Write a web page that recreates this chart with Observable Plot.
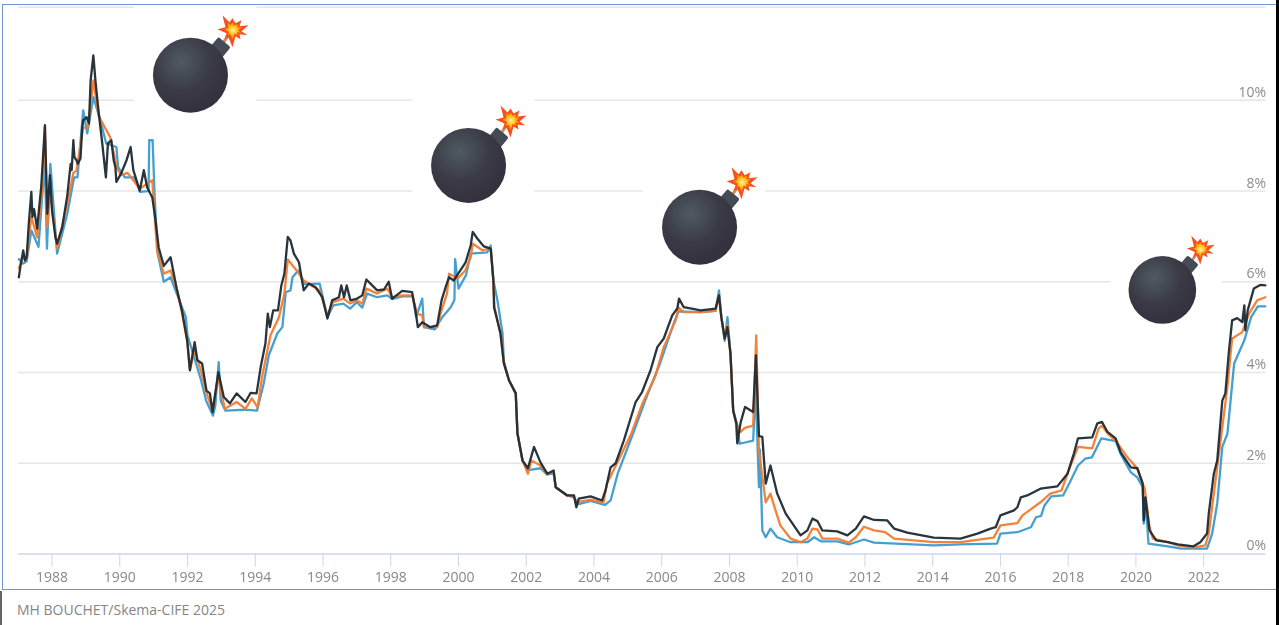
<!DOCTYPE html>
<html>
<head>
<meta charset="utf-8">
<script src="https://cdn.jsdelivr.net/npm/d3@7"></script>
<script src="https://cdn.jsdelivr.net/npm/@observablehq/plot@0.6"></script>
<style>
html,body{margin:0;padding:0;background:#fff;overflow:hidden}
#page{position:relative;width:1279px;height:625px;font-family:"Open Sans",sans-serif}
#chart svg{display:block;filter:blur(0.4px)}
#caption{padding:9px 0 0 17px;font-size:14px;line-height:20px;color:#858585}
#frame{position:absolute;left:2px;top:4px;width:1274px;height:586px;box-sizing:border-box;border:1.5px solid #6b96cf;border-right:none;pointer-events:none}
#edge{position:absolute;left:1276px;top:0;width:3px;height:625px;background:#000}
#gutter{position:absolute;left:0;top:591px;width:2px;height:34px;background:#666}
</style>
</head>
<body>
<div id="page">
<div id="chart"></div>
<div id="caption">MH BOUCHET/Skema-CIFE 2025</div>
<div id="frame"></div><div id="edge"></div><div id="gutter"></div>
</div>
<script>
const blackSeries = [[1987.02,6.1],[1987.08,6.4],[1987.15,6.69],[1987.2,6.47],[1987.25,6.54],[1987.32,7.35],[1987.39,7.98],[1987.42,7.43],[1987.47,7.6],[1987.56,7.17],[1987.68,8.09],[1987.79,9.45],[1987.86,7.5],[1987.94,8.35],[1988.0,7.57],[1988.1,6.98],[1988.15,6.84],[1988.3,7.2],[1988.45,7.9],[1988.55,8.6],[1988.58,8.46],[1988.63,9.12],[1988.66,8.75],[1988.72,8.68],[1988.76,8.6],[1988.84,8.72],[1988.89,9.38],[1988.92,9.56],[1989.02,9.63],[1989.09,9.49],[1989.14,10.44],[1989.22,10.99],[1989.28,10.44],[1989.38,9.71],[1989.48,9.07],[1989.59,8.3],[1989.65,9.05],[1989.75,9.12],[1989.82,8.68],[1989.87,8.53],[1989.9,8.2],[1990.04,8.39],[1990.2,8.68],[1990.32,8.97],[1990.4,8.46],[1990.59,8.01],[1990.71,8.46],[1990.81,8.08],[1990.96,7.86],[1991.03,7.5],[1991.15,6.75],[1991.3,6.35],[1991.5,6.54],[1991.68,5.85],[1991.84,5.35],[1991.99,4.71],[1992.07,4.05],[1992.21,4.67],[1992.29,4.27],[1992.43,4.2],[1992.56,3.6],[1992.66,3.54],[1992.74,3.13],[1992.91,4.01],[1993.07,3.46],[1993.25,3.32],[1993.45,3.54],[1993.71,3.35],[1993.86,3.55],[1994.04,3.54],[1994.16,4.12],[1994.3,4.64],[1994.37,5.3],[1994.43,5.0],[1994.53,5.37],[1994.67,5.37],[1994.77,5.92],[1994.86,6.18],[1994.96,6.99],[1995.04,6.91],[1995.14,6.62],[1995.29,6.43],[1995.43,5.81],[1995.58,5.96],[1995.78,5.88],[1995.98,5.66],[1996.13,5.19],[1996.27,5.59],[1996.47,5.66],[1996.54,5.92],[1996.62,5.66],[1996.7,5.92],[1996.81,5.59],[1997.01,5.63],[1997.16,5.7],[1997.28,6.05],[1997.4,5.96],[1997.6,5.81],[1997.8,5.83],[1997.94,6.0],[1998.04,5.63],[1998.34,5.8],[1998.63,5.77],[1998.73,5.37],[1998.8,5.0],[1998.93,5.11],[1999.17,5.0],[1999.37,5.04],[1999.5,5.59],[1999.62,5.88],[1999.72,6.1],[1999.86,6.03],[2000.21,6.43],[2000.36,6.8],[2000.42,7.1],[2000.55,6.96],[2000.75,6.78],[2000.95,6.73],[2001.03,6.03],[2001.05,5.44],[2001.24,4.86],[2001.34,4.2],[2001.49,3.83],[2001.69,3.54],[2001.74,2.66],[2001.89,2.06],[2002.05,1.89],[2002.23,2.36],[2002.42,2.02],[2002.62,1.77],[2002.81,1.84],[2002.87,1.47],[2003.21,1.29],[2003.41,1.29],[2003.48,1.03],[2003.55,1.22],[2003.9,1.27],[2004.24,1.18],[2004.34,1.4],[2004.49,1.91],[2004.64,2.0],[2004.88,2.5],[2005.23,3.35],[2005.42,3.57],[2005.67,4.05],[2005.87,4.56],[2006.06,4.75],[2006.31,5.26],[2006.46,5.41],[2006.51,5.63],[2006.65,5.44],[2007.15,5.37],[2007.59,5.41],[2007.69,5.7],[2007.76,5.22],[2007.86,4.75],[2007.94,5.0],[2008.03,4.41],[2008.11,3.16],[2008.2,2.88],[2008.23,2.44],[2008.33,2.9],[2008.46,3.24],[2008.7,3.13],[2008.78,4.38],[2008.87,2.6],[2008.97,2.58],[2009.07,1.55],[2009.21,1.95],[2009.41,1.33],[2009.66,0.89],[2010.1,0.41],[2010.3,0.52],[2010.45,0.78],[2010.6,0.72],[2010.74,0.52],[2011.18,0.5],[2011.48,0.41],[2011.73,0.56],[2011.97,0.83],[2012.27,0.75],[2012.66,0.74],[2012.86,0.56],[2013.25,0.47],[2014.03,0.36],[2014.82,0.34],[2015.32,0.45],[2015.71,0.56],[2015.86,0.59],[2016.0,0.85],[2016.4,0.96],[2016.5,1.03],[2016.6,1.25],[2016.79,1.29],[2017.18,1.44],[2017.68,1.49],[2017.98,1.77],[2018.17,2.22],[2018.29,2.55],[2018.71,2.57],[2018.86,2.88],[2019.0,2.91],[2019.16,2.69],[2019.4,2.55],[2019.55,2.24],[2019.85,1.91],[2020.04,1.89],[2020.2,1.55],[2020.23,0.74],[2020.28,1.25],[2020.4,0.52],[2020.6,0.3],[2020.94,0.26],[2021.24,0.21],[2021.7,0.17],[2021.9,0.26],[2022.1,0.45],[2022.15,0.89],[2022.3,1.77],[2022.4,2.06],[2022.5,2.94],[2022.55,3.38],[2022.64,3.54],[2022.74,4.42],[2022.84,5.15],[2022.99,5.2],[2023.14,5.11],[2023.2,5.48],[2023.23,4.93],[2023.3,5.37],[2023.48,5.85],[2023.67,5.93],[2023.82,5.92]];
const orangeSeries = [[1987.02,6.3],[1987.15,6.55],[1987.25,6.5],[1987.32,7.0],[1987.39,7.43],[1987.56,6.98],[1987.71,8.0],[1987.79,9.41],[1987.86,7.2],[1987.94,8.0],[1988.15,6.73],[1988.45,7.72],[1988.63,8.4],[1988.72,8.45],[1988.92,9.4],[1989.06,9.4],[1989.22,10.44],[1989.38,9.65],[1989.72,9.18],[1989.92,8.5],[1990.04,8.35],[1990.23,8.4],[1990.59,8.05],[1990.96,8.24],[1991.1,6.7],[1991.3,6.18],[1991.5,6.25],[1991.68,5.85],[1991.84,5.3],[1992.0,4.65],[1992.07,4.05],[1992.21,4.5],[1992.43,3.94],[1992.56,3.55],[1992.74,3.16],[1992.9,3.9],[1993.1,3.2],[1993.45,3.35],[1993.71,3.2],[1993.9,3.43],[1994.07,3.23],[1994.2,3.9],[1994.45,4.82],[1994.7,5.22],[1994.86,5.74],[1994.96,6.49],[1995.22,6.25],[1995.43,6.03],[1995.9,5.81],[1996.13,5.26],[1996.3,5.55],[1996.6,5.63],[1996.8,5.52],[1997.0,5.59],[1997.16,5.52],[1997.28,5.85],[1997.6,5.74],[1997.9,5.85],[1998.04,5.66],[1998.34,5.7],[1998.63,5.7],[1998.78,5.3],[1998.93,5.26],[1998.98,5.0],[1999.37,5.0],[1999.47,5.3],[1999.66,5.74],[1999.72,6.18],[1999.97,6.07],[2000.2,6.25],[2000.36,6.54],[2000.42,6.84],[2000.72,6.69],[2000.95,6.75],[2001.03,6.03],[2001.06,5.44],[2001.24,4.86],[2001.34,4.2],[2001.49,3.83],[2001.69,3.54],[2001.74,2.66],[2001.89,2.06],[2002.05,1.77],[2002.15,2.06],[2002.42,1.95],[2002.62,1.77],[2002.81,1.8],[2002.87,1.47],[2003.21,1.29],[2003.41,1.27],[2003.48,1.08],[2003.55,1.15],[2003.9,1.2],[2004.28,1.13],[2004.38,1.55],[2004.72,2.06],[2005.1,2.65],[2005.42,3.3],[2005.8,3.9],[2006.06,4.56],[2006.41,5.15],[2006.5,5.43],[2006.65,5.33],[2007.15,5.33],[2007.59,5.36],[2007.69,5.7],[2007.76,5.22],[2007.86,4.75],[2007.94,5.05],[2008.03,4.41],[2008.11,3.16],[2008.2,2.88],[2008.33,2.69],[2008.45,2.78],[2008.7,2.83],[2008.79,4.82],[2008.87,2.28],[2009.07,1.14],[2009.21,1.33],[2009.36,0.96],[2009.5,0.63],[2009.8,0.34],[2010.1,0.26],[2010.3,0.34],[2010.45,0.56],[2010.6,0.54],[2010.74,0.34],[2011.18,0.34],[2011.52,0.25],[2011.73,0.37],[2011.97,0.6],[2012.27,0.52],[2012.6,0.48],[2012.86,0.34],[2014.03,0.26],[2014.82,0.26],[2015.8,0.36],[2016.0,0.63],[2016.5,0.68],[2016.65,0.85],[2017.18,1.14],[2017.47,1.33],[2017.8,1.4],[2018.05,1.91],[2018.29,2.36],[2018.71,2.33],[2018.9,2.77],[2019.0,2.83],[2019.16,2.66],[2019.4,2.5],[2019.75,2.13],[2020.04,1.89],[2020.2,1.55],[2020.26,1.44],[2020.4,0.6],[2020.5,0.34],[2020.94,0.26],[2021.24,0.19],[2021.7,0.14],[2022.05,0.19],[2022.15,0.45],[2022.3,1.33],[2022.5,2.5],[2022.7,3.68],[2022.84,4.75],[2023.14,4.89],[2023.34,5.3],[2023.58,5.59],[2023.82,5.66]];
const blueSeries = [[1987.02,6.5],[1987.15,6.4],[1987.25,6.45],[1987.39,7.13],[1987.6,6.77],[1987.71,7.9],[1987.79,8.6],[1987.85,6.73],[1987.95,8.6],[1988.15,6.62],[1988.45,7.5],[1988.65,8.3],[1988.75,8.3],[1988.92,9.78],[1989.04,9.27],[1989.22,10.07],[1989.4,9.63],[1989.6,9.05],[1989.9,8.97],[1989.95,8.53],[1990.15,8.3],[1990.43,8.3],[1990.6,7.98],[1990.85,8.0],[1990.87,9.12],[1990.97,9.12],[1991.03,7.86],[1991.12,6.62],[1991.3,6.0],[1991.5,6.1],[1991.65,5.8],[1991.95,5.22],[1992.0,4.82],[1992.4,3.83],[1992.55,3.38],[1992.75,3.05],[1992.82,3.27],[1992.92,4.23],[1992.98,3.38],[1993.12,3.16],[1993.7,3.18],[1994.05,3.16],[1994.25,3.76],[1994.4,4.38],[1994.65,4.86],[1994.8,5.0],[1994.9,5.77],[1995.04,5.81],[1995.1,6.1],[1995.27,6.25],[1995.45,5.95],[1995.9,5.96],[1996.13,5.22],[1996.3,5.48],[1996.6,5.52],[1996.8,5.41],[1997.0,5.55],[1997.16,5.43],[1997.3,5.74],[1997.6,5.66],[1997.9,5.7],[1998.04,5.62],[1998.34,5.68],[1998.65,5.68],[1998.75,5.22],[1998.93,5.63],[1998.98,5.0],[1999.3,4.95],[1999.52,5.22],[1999.77,5.44],[1999.88,5.6],[1999.9,6.5],[2000.0,5.85],[2000.22,6.14],[2000.36,6.62],[2000.85,6.65],[2000.95,6.8],[2001.03,6.03],[2001.15,5.59],[2001.3,4.86],[2001.34,4.25],[2001.49,3.83],[2001.69,3.54],[2001.74,2.66],[2001.89,2.06],[2002.05,1.85],[2002.42,1.89],[2002.62,1.75],[2002.81,1.78],[2002.87,1.47],[2003.21,1.29],[2003.41,1.25],[2003.55,1.1],[2003.9,1.17],[2004.32,1.08],[2004.49,1.18],[2004.7,1.77],[2005.15,2.65],[2005.55,3.46],[2005.95,4.2],[2006.35,5.07],[2006.5,5.35],[2007.15,5.33],[2007.59,5.36],[2007.69,5.81],[2007.76,5.22],[2007.86,4.7],[2007.94,5.22],[2008.03,4.41],[2008.11,3.16],[2008.23,2.85],[2008.3,2.43],[2008.7,2.5],[2008.77,3.7],[2008.87,1.47],[2008.9,2.3],[2008.97,0.52],[2009.07,0.37],[2009.21,0.56],[2009.41,0.37],[2009.8,0.26],[2010.3,0.26],[2010.5,0.37],[2010.7,0.28],[2011.18,0.28],[2011.52,0.21],[2011.97,0.32],[2012.27,0.25],[2014.03,0.19],[2014.82,0.21],[2015.9,0.23],[2016.0,0.45],[2016.5,0.48],[2016.9,0.59],[2017.05,0.81],[2017.2,0.84],[2017.3,1.07],[2017.5,1.27],[2017.85,1.29],[2018.05,1.58],[2018.29,1.95],[2018.5,2.1],[2018.7,2.13],[2018.98,2.55],[2019.4,2.49],[2019.55,2.2],[2019.85,1.8],[2020.04,1.69],[2020.2,1.47],[2020.23,0.67],[2020.3,1.05],[2020.37,0.23],[2020.94,0.17],[2021.34,0.12],[2022.1,0.12],[2022.25,0.45],[2022.4,1.11],[2022.55,2.36],[2022.7,2.65],[2022.9,4.2],[2023.2,4.71],[2023.4,5.22],[2023.6,5.46],[2023.82,5.46]];

const seriesNames = ["blue","orange","black"];
const seriesColors = ["#3b9bcc","#f47b30","#1d2a33"];
const xTicks = d3.range(1988, 2023, 2);
const yTicks = [0,2,4,6,8,10];
const topRule = [12.05];
const bombYears = [1992.22,2000.43,2007.25,2020.9];
const bombLevels = [10.83,8.84,7.48,6.07];
const bombSizes = [123,123,123,111];
const captionText = "MH BOUCHET/Skema-CIFE 2025";

const star = "89,14 96,21 99,17 102,22 108,19 106,25 115,24 108,30 114,34 106,33 107,38 102,35 99,46 95,36 91,38 93,32 84,28 92,26";
const bombSvg = `<svg xmlns="http://www.w3.org/2000/svg" viewBox="0 0 123 123">
<defs><radialGradient id="g" cx="0.38" cy="0.32" r="0.72"><stop offset="0" stop-color="#4f5a62"/><stop offset="0.55" stop-color="#3a3a45"/><stop offset="1" stop-color="#342f3d"/></radialGradient>
<radialGradient id="f"><stop offset="0" stop-color="#fff7a8"/><stop offset="0.55" stop-color="#ffb300"/><stop offset="1" stop-color="#f4511e"/></radialGradient></defs>
<rect width="123" height="123" fill="#fff"/>
<line x1="88" y1="44" x2="98" y2="30" stroke="#c98f62" stroke-width="3"/>
<rect x="-8" y="-8" width="16" height="15" rx="2" fill="#454b54" transform="translate(86 47) rotate(40)"/>
<circle cx="57" cy="74" r="37.5" fill="url(#g)"/>
<polygon points="${star}" fill="#f4511e"/>
<polygon points="${star}" fill="url(#f)" transform="translate(99.5 28) scale(0.62) translate(-99.5 -28)"/>
</svg>`;
const bombSrc = "data:image/svg+xml;charset=utf-8," + encodeURIComponent(bombSvg);

const rows = [blueSeries, orangeSeries, blackSeries].flatMap((s, i) =>
  s.map(([year, pct]) => ({year, pct, series: seriesNames[i]})));
const bombs = bombYears.map((year, i) => ({year, level: bombLevels[i], size: bombSizes[i]}));

const chart = Plot.plot({
  width: 1279, height: 591,
  marginTop: 0, marginBottom: 37.5, marginLeft: 18, marginRight: 13.5,
  style: {background: "#fff", fontFamily: '"Open Sans",sans-serif', fontSize: "14px"},
  x: {domain: [1987.01, 2023.84], label: null},
  y: {domain: [0, 12.2], label: null, axis: null},
  marks: [
    Plot.ruleY(yTicks.filter(d => d > 0).concat(topRule), {stroke: "#e6e6e6", strokeWidth: 1.5}),
    Plot.ruleY([0], {stroke: "#ccd6eb", strokeWidth: 1.5}),
    ...bombs.map(b => Plot.image([b], {x: "year", y: "level", width: b.size, height: b.size, src: () => bombSrc})),
    Plot.axisX({ticks: xTicks, tickFormat: "d", tickSize: 13, tickPadding: 5, stroke: "#ccd6eb", fill: "#888", fontSize: 14, label: null}),
    Plot.text(yTicks, {y: d => d, text: d => d + "%", frameAnchor: "right", textAnchor: "end", dy: -8, fill: "#8c8c8c", fontSize: 14}),
    ...seriesNames.map((name, i) => Plot.line(rows.filter(r => r.series === name), {
      x: "year", y: "pct", stroke: seriesColors[i], strokeWidth: 2.3, strokeLinejoin: "round", strokeOpacity: 0.95
    }))
  ]
});
document.getElementById("chart").appendChild(chart);
document.getElementById("caption").textContent = captionText;
</script>
</body>
</html>
